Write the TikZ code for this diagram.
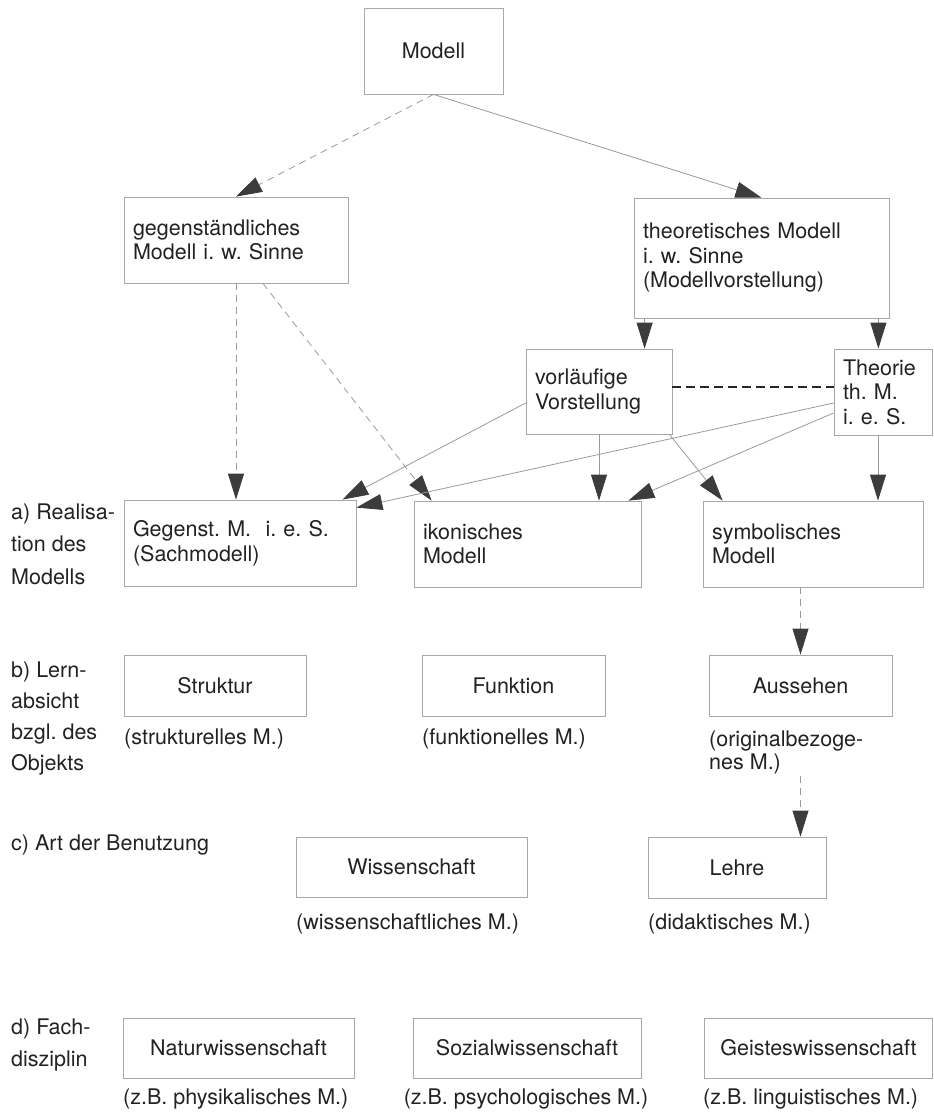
\documentclass[tikz,border=0pt]{standalone}
\usepackage{fontspec}
\setmainfont{TeX Gyre Heros}
\usetikzlibrary{arrows.meta,calc}
\definecolor{boxc}{HTML}{A8A8A8}
\definecolor{linec}{HTML}{9A9A9A}
\definecolor{tipc}{HTML}{3C3C3C}
\definecolor{txtc}{HTML}{222222}
\begin{document}
\frenchspacing
\begin{tikzpicture}[x=1pt,y=-1pt,
  every node/.style={font=\fontsize{21.5}{24.5}\selectfont\frenchspacing, text=txtc},
  box/.style={draw=boxc, line width=0.8pt, inner ysep=0pt},
  lbox/.style={box, align=left, inner xsep=9pt},
  cbox/.style={box, align=center, inner xsep=0pt},
  sublab/.style={anchor=west, inner sep=0pt, align=left},
  sidelab/.style={anchor=west, inner sep=0pt, align=left},
  garr/.style={draw=linec, line width=0.8pt, -{Triangle[length=26pt,width=16pt,color=tipc]}},
  dgarr/.style={garr, dash pattern=on 7pt off 5pt},
  bdash/.style={draw=black!85, line width=1.5pt, dash pattern=on 9pt off 5pt}]
\useasboundingbox[fill=white] (0,0) rectangle (934,1117);

% top levels
\node[cbox, minimum width=139pt, minimum height=86pt] (modell) at (433.5,51) {Modell};
\node[lbox, text width=206pt, minimum height=86pt] (gegen) at (236,240) {gegenständliches\\Modell i. w. Sinne};
\node[lbox, text width=237pt, minimum height=120pt] (theo) at (761.5,258) {theoretisches Modell\\i. w. Sinne\\(Modellvorstellung)};
\node[lbox, text width=128pt, minimum height=85pt] (vorl) at (599,391.5) {vorläufige\\Vorstellung};
\node[lbox, text width=80pt, minimum height=86pt] (theorie) at (883,392) {Theorie\\th. M.\\i. e. S.};

% row a
\node[lbox, text width=214pt, minimum height=86pt] (gegenst) at (240,543) {Gegenst. M.\ \ i. e. S.\\(Sachmodell)};
\node[lbox, text width=209pt, minimum height=86pt] (ikon) at (527.5,544) {ikonisches\\Modell};
\node[lbox, text width=202pt, minimum height=86pt] (symb) at (813,544) {symbolisches\\Modell};

% row b
\node[cbox, minimum width=182pt, minimum height=61pt] (struktur) at (215,685.5) {Struktur};
\node[cbox, minimum width=183pt, minimum height=61pt] (funktion) at (513.5,685.5) {Funktion};
\node[cbox, minimum width=183pt, minimum height=61pt] (aus) at (800.5,685.5) {Aussehen};
\node[sublab] (sl1) at (124,739) {(strukturelles M.)};
\node[sublab] (sl2) at (422,739) {(funktionelles M.)};
\node[sublab, font=\fontsize{21.5}{23}\selectfont] (sl3) at (709,752.5) {(originalbezoge-\\nes M.)};

% row c
\node[cbox, minimum width=231pt, minimum height=60pt] (wiss) at (411.5,867) {Wissenschaft};
\node[cbox, minimum width=178pt, minimum height=61pt] (lehre) at (737,867.5) {Lehre};
\node[sublab] (sl4) at (296,924) {(wissenschaftliches M.)};
\node[sublab] (sl5) at (648,924) {(didaktisches M.)};

% row d
\node[cbox, minimum width=231pt, minimum height=60pt] (natur) at (238.5,1048) {Naturwissenschaft};
\node[cbox, minimum width=228pt, minimum height=60pt] (sozial) at (527,1048) {Sozialwissenschaft};
\node[cbox, minimum width=228pt, minimum height=60pt] (geistes) at (818.5,1048) {Geisteswissenschaft};
\node[sublab] (sl6) at (123,1099) {(z.B. physikalisches M.)};
\node[anchor=center, inner sep=0pt] (sl7) at (526,1099) {(z.B. psychologisches M.)};
\node[sublab] (sl8) at (703,1099) {(z.B. linguistisches M.)};

% side labels
\node[sidelab, font=\fontsize{21.5}{32.5}\selectfont] (la) at (11,544) {a) Realisa-\\tion des\\Modells};
\node[sidelab, font=\fontsize{21.5}{31}\selectfont] (lb) at (11,718) {b) Lern-\\absicht\\bzgl. des\\Objekts};
\node[sidelab] (lc) at (11,845) {c) Art der Benutzung};
\node[sidelab, font=\fontsize{21.5}{32}\selectfont] (ld) at (11,1045) {d) Fach-\\disziplin};

% connectors
\draw[dgarr] (modell.south) -- (gegen.north);
\draw[garr] (modell.south) -- (theo.north);
\draw[garr] ([xshift=11pt]theo.south west) -- ([xshift=11pt]theo.south west |- vorl.north);
\draw[garr] ([xshift=-11pt]theo.south east) -- ([xshift=-11pt]theo.south east |- theorie.north);
\draw[bdash] ([yshift=4.5pt]vorl.east) -- ([yshift=4.5pt]vorl.east -| theorie.west);
\draw[dgarr] (gegen.south) -- (gegen.south |- gegenst.north);
\draw[dgarr] ([xshift=27pt]gegen.south) -- ([xshift=18pt]ikon.north west);
\draw[garr] ([yshift=-11.5pt]vorl.west) -- ([xshift=-14pt]gegenst.north east);
\draw[garr] (vorl.south) -- (vorl.south |- ikon.north);
\draw[garr] ([xshift=-3pt]vorl.south east) -- ([xshift=20pt]symb.north west);
\draw[garr] ([yshift=-11pt]theorie.west) -- ([yshift=-8pt]gegenst.north east);
\draw[garr] ([yshift=-21pt]theorie.west) -- ([xshift=-13pt]ikon.north east);
\draw[garr] ([xshift=-5pt]theorie.south) -- ([xshift=-5pt]theorie.south |- symb.north);
\draw[dgarr] (aus.north |- symb.south) -- (aus.north);
\draw[dgarr] ([yshift=-2pt]aus.south |- sl3.south) -- (aus.south |- lehre.north);
\end{tikzpicture}
\end{document}
